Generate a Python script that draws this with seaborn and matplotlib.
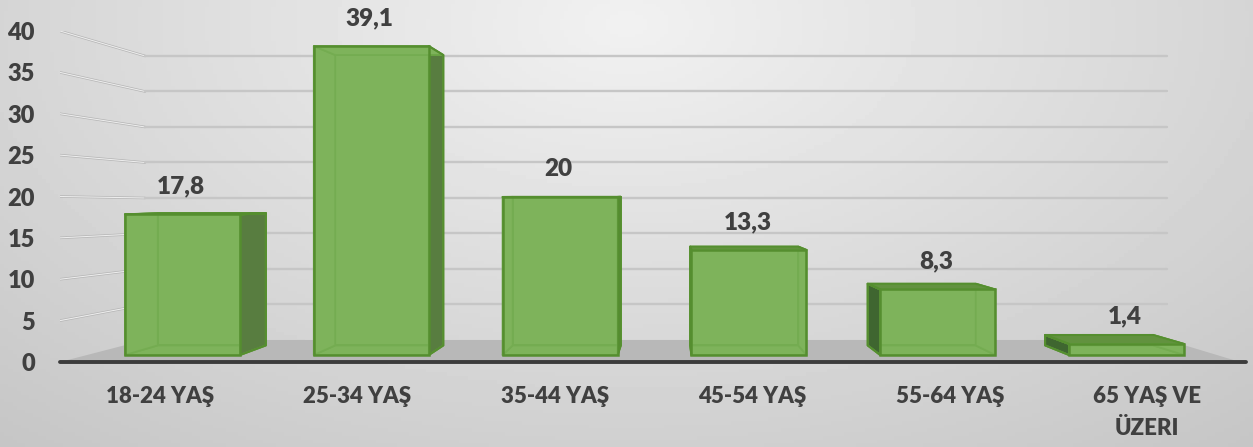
import numpy as np
import pandas as pd
import matplotlib.pyplot as plt
import seaborn as sns
from matplotlib.colors import to_rgba
from matplotlib.patches import Polygon

categories = ['18-24 YAŞ', '25-34 YAŞ', '35-44 YAŞ', '45-54 YAŞ', '55-64 YAŞ', '65 YAŞ VE\nÜZERI']
values = [17.8, 39.1, 20, 13.3, 8.3, 1.4]
value_labels = ['17,8', '39,1', '20', '13,3', '8,3', '1,4']
y_ticks = [0, 5, 10, 15, 20, 25, 30, 35, 40]

W, H = 1253, 447
TEXT = '#404040'
WEIGHT = 'heavy'
EDGE = '#558e2f'
FRONT = '#7eb35b'
INNER = '#6aa545'
RIGHT_SIDE = '#587d40'
LEFT_SIDE = '#3f6630'
TOP_FACE = '#62923f'

# perspective of the box backs, in the bar axes' data units
VANISH_X, VANISH_Y, DEPTH = 2.587, 20.25, 0.94
BAR_WIDTH = 0.609
# back wall position, in the value axes' data units
WALL_LEFT, WALL_RIGHT, FLOOR_RIGHT = -0.076, 5.10, 5.47
WALL_BASE, WALL_SLOPE = 2.66, 0.858


def px_axes(fig, left, top, right, bottom):
    return fig.add_axes([left / W, 1 - bottom / H, (right - left) / W, (bottom - top) / H])


def back(x, y):
    return VANISH_X + (x - VANISH_X) * DEPTH, VANISH_Y + (y - VANISH_Y) * DEPTH


sns.set_style('white')
plt.rcParams['font.family'] = ['Lato', 'DejaVu Sans']

fig = plt.figure(figsize=(W / 100, H / 100), dpi=100)

# slide background gradient
bg = fig.add_axes([0, 0, 1, 1], zorder=0)
xx, yy = np.meshgrid(np.linspace(0, 1, 300), np.linspace(0, 1, 120))
dist = np.sqrt(((xx - 0.5) / 0.75) ** 2 + ((yy - 0.05) / 1.2) ** 2)
bg.imshow(241 - 42 * dist, cmap='gray', vmin=0, vmax=255, aspect='auto', extent=(0, 1, 1, 0))
bg.axis('off')

# value axes: labels, walls, floor
wall = px_axes(fig, 60, 31, 1246, 362)
wall.set_zorder(1)
wall.patch.set_alpha(0)
wall.set_xlim(-0.507, 5.50)
wall.set_ylim(0, 40)
wall.set_yticks(y_ticks)
wall.set_yticklabels([str(t) for t in y_ticks], fontsize=17, fontweight=WEIGHT, color=TEXT)
wall.set_xticks(range(len(categories)))
wall.set_xticklabels(categories, fontsize=16, fontweight=WEIGHT, color=TEXT, linespacing=1.65)
wall.tick_params(axis='y', length=0, pad=18)
wall.tick_params(axis='x', length=0, pad=17)
sns.despine(ax=wall, left=True, right=True, top=True)
wall.spines['bottom'].set_color('#3c3c3c')
wall.spines['bottom'].set_linewidth(2.8)
wall.spines['bottom'].set_capstyle('round')

wall.add_patch(Polygon([(-0.507, 0), (FLOOR_RIGHT, 0), (WALL_RIGHT, WALL_BASE), (WALL_LEFT, WALL_BASE)],
                       closed=True, facecolor='#b8b8b8', edgecolor='none', zorder=1))
for t in y_ticks[1:]:
    y_back = WALL_BASE + WALL_SLOPE * t
    wall.plot([-0.507, WALL_LEFT], [t, y_back], color='#b4b4b4', lw=1.8, solid_capstyle='round', zorder=2)
    wall.plot([-0.507, WALL_LEFT], [t, y_back], color='#ececec', lw=0.8, solid_capstyle='round', zorder=2)
    wall.plot([WALL_LEFT, WALL_RIGHT], [y_back, y_back], color='#c6c6c6', lw=1.7, zorder=2)

# bars on the front plane
ax = fig.add_axes([0, 0, 1, 1], zorder=2)
ax.patch.set_alpha(0)
df = pd.DataFrame({'category': categories, 'value': values})
sns.barplot(data=df, x='category', y='value', ax=ax, width=BAR_WIDTH, color=FRONT, saturation=1, zorder=4)
ax.set_xlim((0 - 182.5) / 188.8, (W - 182.5) / 188.8)
ax.set_ylim(-(H - 355) / 7.9, 355 / 7.9)
ax.axis('off')

for i, bar in enumerate(ax.patches):
    x0, x1 = bar.get_x(), bar.get_x() + bar.get_width()
    top = bar.get_height()
    bar.set_facecolor(to_rgba(FRONT, 0.55))
    bar.set_edgecolor(EDGE)
    bar.set_linewidth(1.8)
    bx0, by0 = back(x0, 0)
    bx1, by1 = back(x1, top)

    # faces behind the front rectangle
    right_out = bx1 > x1
    left_out = bx0 < x0
    faces = [([(bx0, by0), (bx1, by0), (bx1, by1), (bx0, by1)], FRONT),
             ([(x0, 0), (x1, 0), (bx1, by0), (bx0, by0)], FRONT),
             ([(x0, 0), (bx0, by0), (bx0, by1), (x0, top)], LEFT_SIDE if left_out else FRONT),
             ([(x1, 0), (bx1, by0), (bx1, by1), (x1, top)], RIGHT_SIDE if right_out else FRONT),
             ([(x0, top), (x1, top), (bx1, by1), (bx0, by1)], TOP_FACE if by1 > top else FRONT)]
    for pts, color in faces:
        ax.add_patch(Polygon(pts, closed=True, facecolor=color, edgecolor=INNER, linewidth=1.3,
                             joinstyle='round', zorder=3))
    # outer outline of the visible side and top
    if right_out:
        ax.plot([x1, bx1, bx1, x1], [top, by1, by0, 0], color=EDGE, lw=1.5, zorder=3.5)
    if left_out:
        ax.plot([x0, bx0, bx0, x0], [top, by1, by0, 0], color=EDGE, lw=1.5, zorder=3.5)
    if by1 > top:
        ax.plot([x0, bx0, bx1, x1], [top, by1, by1, top], color=EDGE, lw=1.5, zorder=3.5)

    ax.annotate(value_labels[i], (i, top), xytext=(-1, 20), textcoords='offset points',
                ha='center', va='center', fontsize=17.5, fontweight=WEIGHT, color=TEXT, zorder=5)

fig.savefig('out.png', dpi=100)
